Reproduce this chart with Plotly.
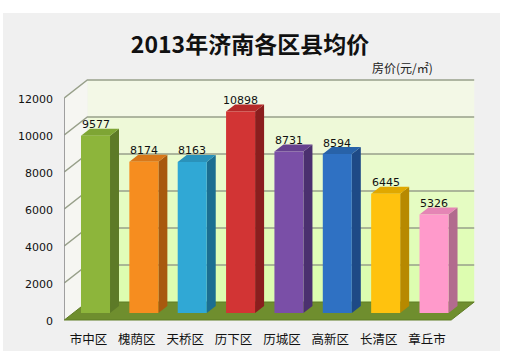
import plotly.graph_objects as go

# ---- data ----
districts = ["市中区", "槐荫区", "天桥区", "历下区", "历城区", "高新区", "长清区", "章丘市"]
prices = [9577, 8174, 8163, 10898, 8731, 8594, 6445, 5326]
y_ticks = [0, 2000, 4000, 6000, 8000, 10000, 12000]
y_tick_labels = ["0", "2000", "4000", "6000", "8000", "10000", "12000"]
title_text = "2013年济南各区县均价"
unit_text = "房价(元/㎡)"

front_colors = ["#8db53b", "#f68d1f", "#30a8d5", "#d23434", "#7a4fa7", "#2f71c3", "#ffc20e", "#ff9acb"]
side_colors = ["#5d7a27", "#a8590e", "#1b6e91", "#8a1e1e", "#4b306f", "#1e4a86", "#b78900", "#b26b8e"]
top_colors = ["#7ea534", "#d8781a", "#2a92ba", "#b52929", "#66418f", "#2862a8", "#e0a800", "#e585b5"]

# ---- geometry (pixel-based styling constants) ----
W, H = 510, 351
ML, MR, MT, MB = 64, 30, 60, 26
PXW = 48.36            # px per category
PYU = 222 / 12000      # px per value unit
PX = 1 / PXW           # category units per px
PY = 1 / PYU           # value units per px
plot_h = H - MT - MB
x0 = -(95.5 - ML) / PXW
x1 = x0 + (W - ML - MR) / PXW
y0 = -(MT + plot_h - 313) * PY
y1 = y0 + plot_h * PY

BW = 0.6
BDX, BDY = 9 * PX, 7 * PY          # bar depth
FDX, FDY = -7 * PX, -7 * PY        # front plane offset
BKX, BKY = 16 * PX, 11 * PY        # back plane offset
ymax = y_ticks[-1]
n = len(districts)
xl, xr = -0.5, n - 0.5


def poly(pts):
    return "M " + " L ".join(f"{a},{b}" for a, b in pts) + " Z"


shapes = []
# back wall gradient bands
band_cols = ["#ddfdb0", "#e1fdb8", "#e5fcc2", "#e9fbcc", "#eef9d8", "#f3f8e6"]
for k in range(len(y_ticks) - 1):
    a, b = y_ticks[k], y_ticks[k + 1]
    shapes.append(dict(type="path", layer="below", xref="x", yref="y",
                       path=poly([(xl + BKX, a + BKY), (xr + BKX, a + BKY),
                                  (xr + BKX, b + BKY), (xl + BKX, b + BKY)]),
                       fillcolor=band_cols[k], line=dict(width=0)))
# left wall
shapes.append(dict(type="path", layer="below", xref="x", yref="y",
                   path=poly([(xl + FDX, FDY), (xl + FDX, ymax + FDY),
                              (xl + BKX, ymax + BKY), (xl + BKX, BKY)]),
                   fillcolor="#f6f6f2", line=dict(width=0)))
# gridlines (back wall + left wall)
for t in y_ticks[1:]:
    shapes.append(dict(type="path", layer="below", xref="x", yref="y",
                       path=f"M {xl + FDX},{t + FDY} L {xl + BKX},{t + BKY} L {xr + BKX},{t + BKY}",
                       line=dict(color="#98a08a", width=1.4)))
# front-left edge
shapes.append(dict(type="line", layer="below", xref="x", yref="y",
                   x0=xl + FDX, y0=FDY, x1=xl + FDX, y1=ymax + FDY,
                   line=dict(color="#8c8c8c", width=1)))
# floor
shapes.append(dict(type="path", layer="below", xref="x", yref="y",
                   path=poly([(xl + FDX, FDY), (xr + FDX, FDY),
                              (xr + BKX, BKY), (xl + BKX, BKY)]),
                   fillcolor="#6f8e2e", line=dict(color="#5f7c25", width=1)))
# bar depth faces
for i, v in enumerate(prices):
    l, r = i - BW / 2, i + BW / 2
    shapes.append(dict(type="path", layer="below", xref="x", yref="y",
                       path=poly([(r, 0), (r + BDX, BDY), (r + BDX, v + BDY), (r, v)]),
                       fillcolor=side_colors[i], line=dict(width=0)))
    shapes.append(dict(type="path", layer="below", xref="x", yref="y",
                       path=poly([(l, v), (l + BDX, v + BDY), (r + BDX, v + BDY), (r, v)]),
                       fillcolor=top_colors[i], line=dict(width=0)))


# white page edges around the grey chart area (paper coords)
def pxp(px):
    return (px - ML) / (W - ML - MR)


def pyp(py):
    return (H - MB - py) / plot_h


for (a, b, c, d) in [(0, 0, W, 13), (500, 0, W, H), (0, 0, 3, H)]:
    shapes.append(dict(type="rect", xref="paper", yref="paper", layer="above",
                       x0=pxp(a), x1=pxp(c), y0=pyp(d), y1=pyp(b),
                       fillcolor="#ffffff", line=dict(width=0)))

fig = go.Figure()
fig.add_trace(go.Bar(x=list(range(n)), y=prices, width=BW,
                     marker=dict(color=front_colors, line=dict(width=0)),
                     hoverinfo="skip", showlegend=False))

annotations = []
for i, v in enumerate(prices):
    annotations.append(dict(x=i, y=v, xref="x", yref="y", text=str(v), showarrow=False,
                            yanchor="middle", yshift=11,
                            font=dict(family="DejaVu Sans", size=11, color="#111111")))
annotations.append(dict(x=(402 - 95.5) * PX, y=(313 - 67) * PY, xref="x", yref="y", text=unit_text,
                        showarrow=False, xanchor="center", yanchor="middle",
                        font=dict(family="Noto Sans CJK SC", size=12, color="#222222")))

fig.update_layout(
    width=W, height=H,
    margin=dict(l=ML, r=MR, t=MT, b=MB, autoexpand=False),
    paper_bgcolor="#f0f0f0", plot_bgcolor="rgba(0,0,0,0)",
    title=dict(text=title_text, x=250 / W, y=1 - 45 / H, xref="container", yref="container",
               xanchor="center", yanchor="middle",
               font=dict(family="Noto Sans CJK SC", size=23, color="#111111", weight="bold")),
    xaxis=dict(range=[x0, x1], tickvals=list(range(n)), ticktext=districts,
               showgrid=False, zeroline=False, showline=False, ticks="", automargin=False,
               ticklabelshift=-7, ticklabelstandoff=5,
               tickfont=dict(family="Noto Sans CJK SC", size=12.5, color="#111111")),
    yaxis=dict(range=[y0, y1], tickvals=y_ticks, ticktext=y_tick_labels,
               showgrid=False, zeroline=False, automargin=False,
               showline=False, ticks="", ticklabelshift=8, ticklabelstandoff=10,
               tickfont=dict(family="DejaVu Sans", size=11, color="#111111")),
    shapes=shapes, annotations=annotations, bargap=0.4,
)

fig.write_html("out.html")
